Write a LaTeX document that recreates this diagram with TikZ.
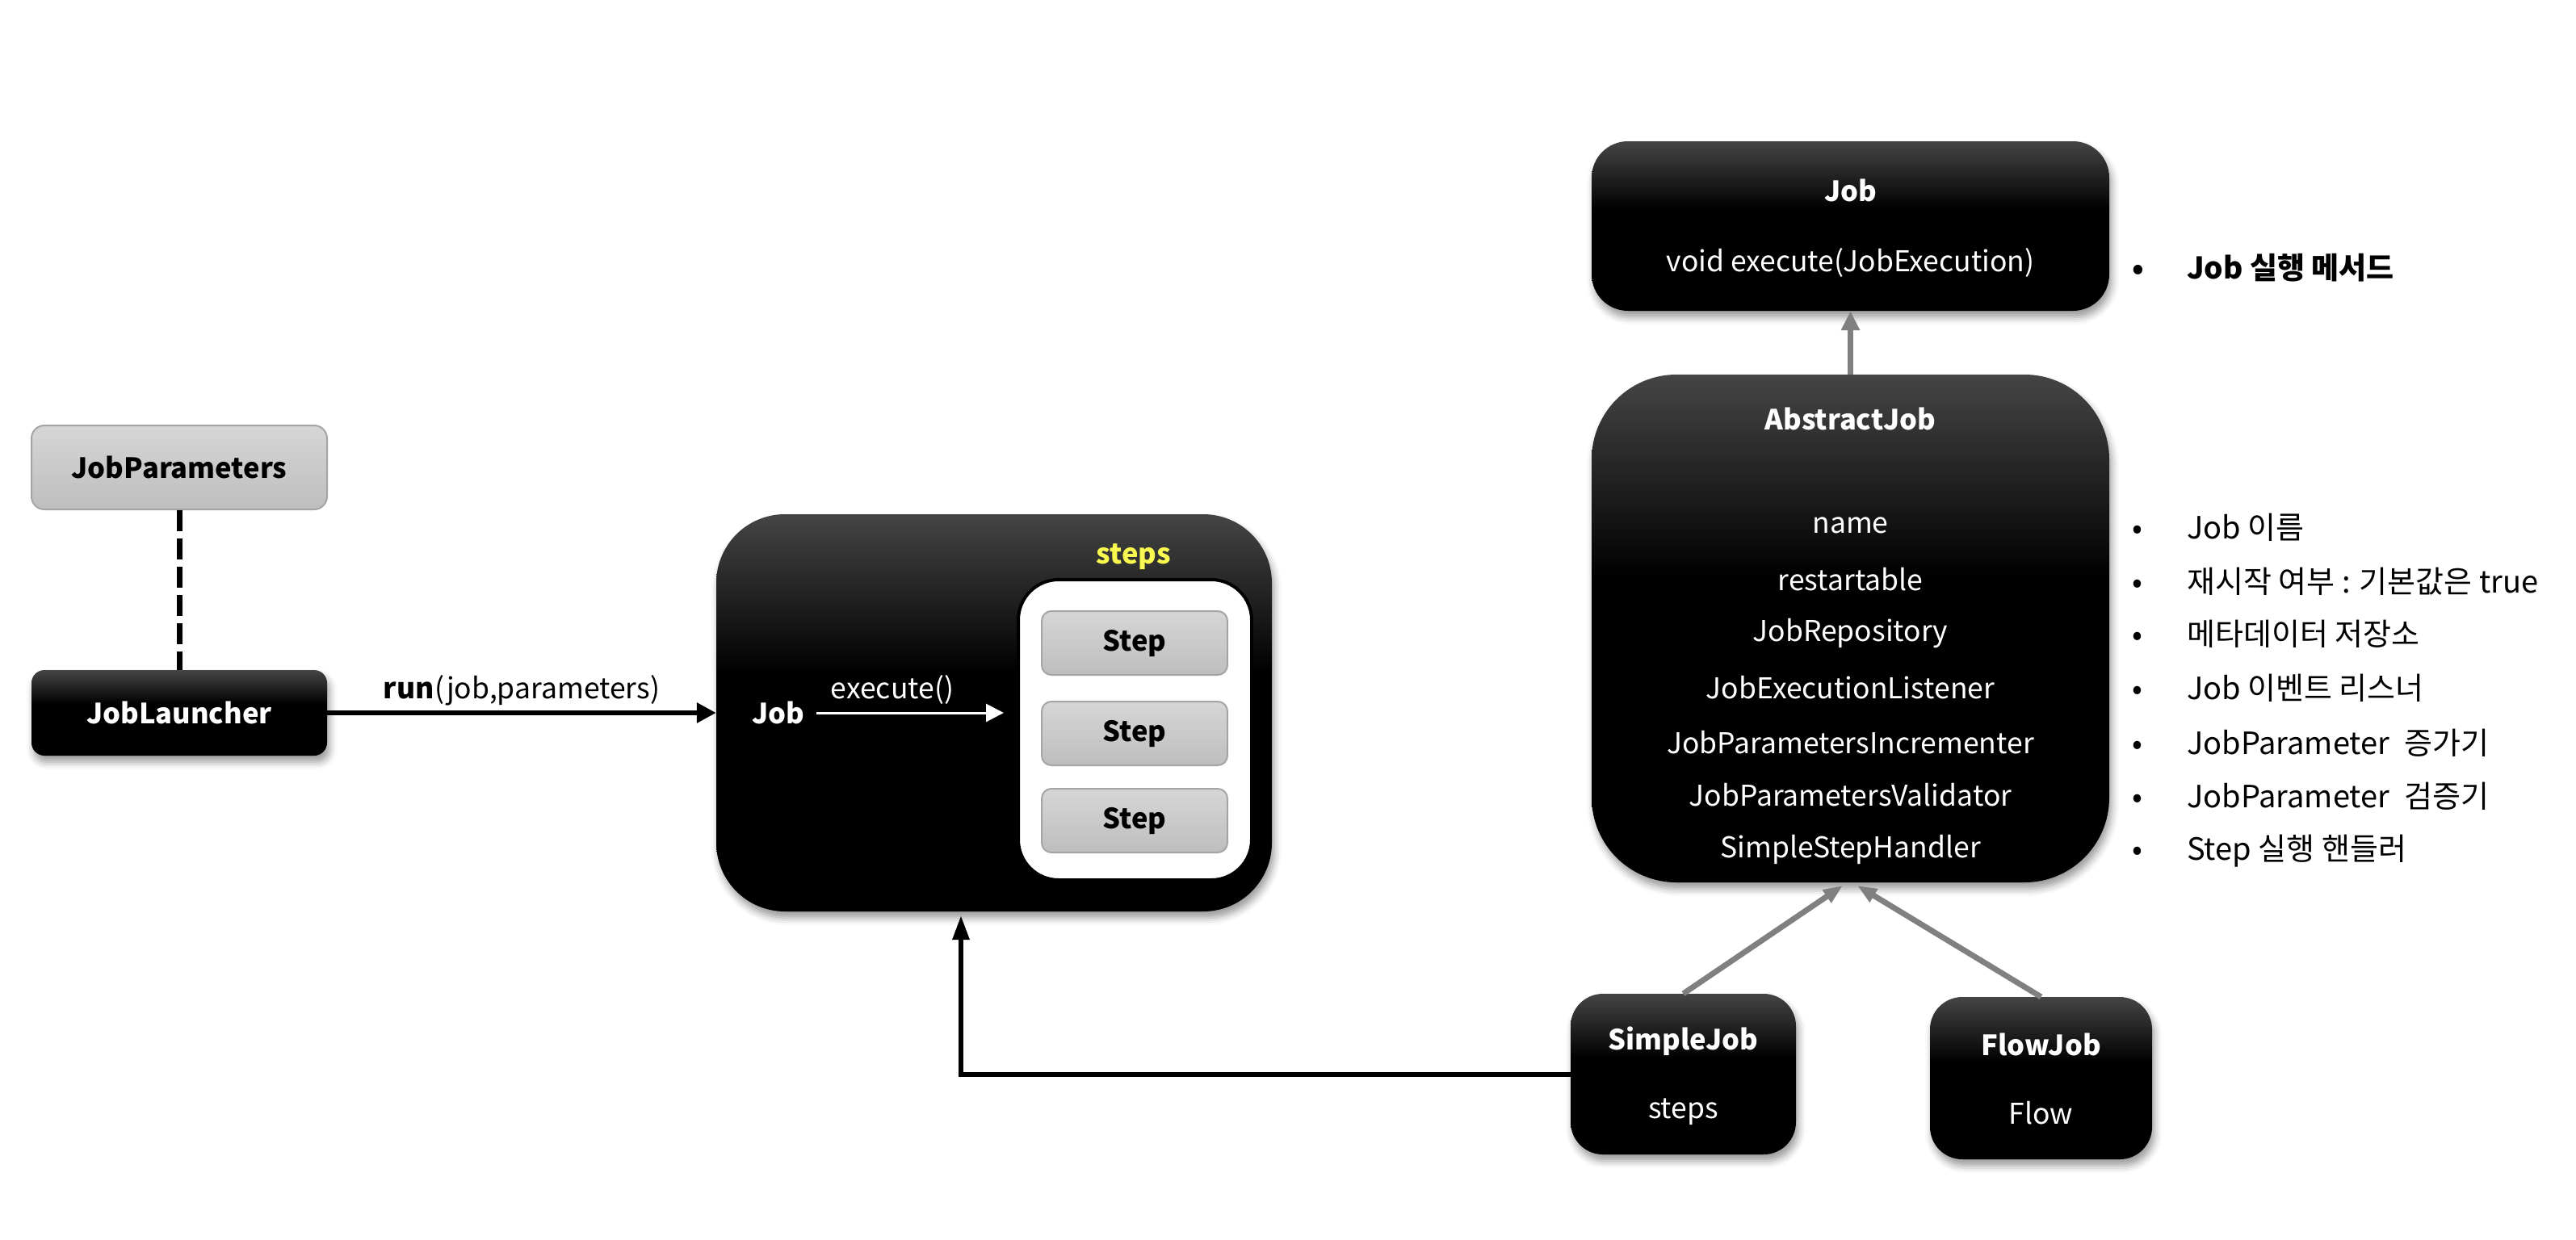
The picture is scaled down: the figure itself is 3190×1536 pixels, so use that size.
\documentclass[tikz,border=0pt]{standalone}
\usepackage{fontspec}
\setmainfont{Noto Sans CJK KR}
\usetikzlibrary{shadows.blur,arrows.meta}

\definecolor{shadetop}{gray}{0.27}
\definecolor{stepTop}{RGB}{214,214,214}
\definecolor{stepBot}{RGB}{190,190,190}
\definecolor{stepEdge}{RGB}{165,165,165}
\definecolor{linkgrey}{RGB}{128,128,128}
\definecolor{stepsyellow}{RGB}{248,248,80}

\pgfdeclareverticalshading{darkfill}{100bp}{color(0bp)=(black); color(55bp)=(black); color(75bp)=(shadetop); color(100bp)=(shadetop)}
\pgfdeclareverticalshading{greyfill}{100bp}{color(0bp)=(stepBot); color(25bp)=(stepBot); color(75bp)=(stepTop); color(100bp)=(stepTop)}

\tikzset{
  darkbox/.style={shade, shading=darkfill, draw=none, text=white, inner sep=0pt,
    blur shadow={shadow xshift=3pt, shadow yshift=-8pt, shadow blur radius=9pt, shadow opacity=40}},
  greybox/.style={shade, shading=greyfill, draw=stepEdge, line width=2pt, text=black, inner sep=0pt},
  boldtxt/.style={font=\fontsize{34.5}{40}\selectfont\bfseries},
  plaintxt/.style={font=\fontsize{35.5}{42}\selectfont},
  itemtxt/.style={plaintxt, text=white, inner sep=0pt},
  note/.style={font=\fontsize{38}{44}\selectfont, anchor=west, text=black, inner sep=0pt},
  boldnote/.style={font=\fontsize{37}{44}\selectfont\bfseries, anchor=west, text=black, inner sep=0pt},
  blackarrow/.style={draw=black, line width=6pt, -{Triangle[length=24pt,width=24pt]}},
  greyarrow/.style={draw=linkgrey, line width=7pt, -{Triangle[length=24pt,width=22pt]}},
}

\newcommand{\bulleted}[1]{\makebox[68pt][l]{•}#1}

\begin{document}
\begin{tikzpicture}[x=1pt,y=-1pt]
\useasboundingbox (0,0) rectangle (3190,1536);

% launcher side
\node[greybox, boldtxt, minimum width=366pt, minimum height=104pt, rounded corners=16pt]
  (params) at (222,579) {JobParameters};
\node[darkbox, boldtxt, minimum width=366pt, minimum height=106pt, rounded corners=16pt]
  (launcher) at (222,883) {JobLauncher};

% job with its steps
\node[darkbox, minimum width=688pt, minimum height=492pt, rounded corners=85pt]
  (jobbox) at (1231,883) {};
\node[boldtxt, text=stepsyellow, inner sep=0pt] (stepslabel) at (1404,690) {steps};
\node[fill=white, draw=black, line width=4pt, rounded corners=50pt,
  minimum width=289pt, minimum height=372pt, inner sep=0pt] (stepsbox) at (1405.5,904) {};
\node[greybox, boldtxt, minimum width=230pt, minimum height=79pt, rounded corners=12pt]
  (step1) at (1405,796.5) {Step};
\node[greybox, boldtxt, minimum width=230pt, minimum height=79pt, rounded corners=12pt]
  (step2) at (1405,908.5) {Step};
\node[greybox, boldtxt, minimum width=230pt, minimum height=79pt, rounded corners=12pt]
  (step3) at (1405,1016.5) {Step};
\node[boldtxt, text=white, inner sep=0pt] (joblabel) at (964,883) {Job};
\coordinate (execstart) at (1011,883);
\coordinate (execend) at (1243,883);
\draw[white, line width=3pt, -{Triangle[length=22pt,width=22pt]}] (execstart) -- (execend);
\node[plaintxt, text=white, inner sep=0pt] (execlabel) at (1105,854) {execute()};

% connectors on the left
\draw[black, line width=7pt, dash pattern=on 26pt off 9pt] (params.south) -- (launcher.north);
\draw[blackarrow] (launcher.east) -- (jobbox.west)
  node[midway, above=6pt, plaintxt, inner sep=0pt] (runlabel) {\textbf{run}(job,parameters)};

% interface Job
\node[darkbox, minimum width=641pt, minimum height=210pt, rounded corners=45pt]
  (jobiface) at (2291.5,280) {};
\node[boldtxt, text=white, inner sep=0pt] (jobtitle) at (2291.5,236) {Job};
\node[itemtxt] (jobexec) at (2291.5,325) {void execute(JobExecution)};
\node[boldnote] (jobnote) at (2640,332) {\bulleted{Job 실행 메서드}};

% AbstractJob
\node[darkbox, minimum width=641pt, minimum height=629pt, rounded corners=105pt]
  (abstract) at (2291.5,778.5) {};
\node[boldtxt, text=white, inner sep=0pt] (abstracttitle) at (2291.5,519) {AbstractJob};
\node[itemtxt] (a1) at (2291.5,651) {name};
\node[itemtxt] (a2) at (2291.5,718) {restartable};
\node[itemtxt] (a3) at (2291.5,785) {JobRepository};
\node[itemtxt] (a4) at (2291.5,852) {JobExecutionListener};
\node[itemtxt] (a5) at (2291.5,920) {JobParametersIncrementer};
\node[itemtxt] (a6) at (2291.5,985) {JobParametersValidator};
\node[itemtxt] (a7) at (2291.5,1052) {SimpleStepHandler};

\node[note] (n1) at (2640,653) {\bulleted{Job 이름}};
\node[note] (n2) at (2640,720) {\bulleted{재시작 여부 : 기본값은 true}};
\node[note] (n3) at (2640,785) {\bulleted{메타데이터 저장소}};
\node[note] (n4) at (2640,852) {\bulleted{Job 이벤트 리스너}};
\node[note] (n5) at (2640,920) {\bulleted{JobParameter\hspace{18pt}증가기}};
\node[note] (n6) at (2640,986) {\bulleted{JobParameter\hspace{18pt}검증기}};
\node[note] (n7) at (2640,1054) {\bulleted{Step 실행 핸들러}};

\draw[greyarrow] (abstract.north) -- (jobiface.south);

% implementations
\node[darkbox, minimum width=279pt, minimum height=199pt, rounded corners=40pt]
  (simplejob) at (2084.5,1330.5) {};
\node[boldtxt, text=white, inner sep=0pt] (simpletitle) at (2084.5,1290) {SimpleJob};
\node[itemtxt] (simplesteps) at (2084.5,1377) {steps};

\node[darkbox, minimum width=275pt, minimum height=201pt, rounded corners=40pt]
  (flowjob) at (2527.5,1335.5) {};
\node[boldtxt, text=white, inner sep=0pt] (flowtitle) at (2527.5,1294) {FlowJob};
\node[itemtxt] (flowflow) at (2527.5,1379) {Flow};

\coordinate (simpletip) at (2282,1097);
\coordinate (flowtip) at (2300,1097);
\draw[greyarrow, -{Triangle[length=24pt,width=18pt]}] (simplejob.north) -- (simpletip);
\draw[greyarrow, -{Triangle[length=24pt,width=18pt]}] (flowjob.north) -- (flowtip);

\coordinate (jobfoot) at (1190,1134);
\draw[black, line width=6pt, -{Triangle[length=30pt,width=20pt]}] (simplejob.west) -| (jobfoot);
\end{tikzpicture}
\end{document}
